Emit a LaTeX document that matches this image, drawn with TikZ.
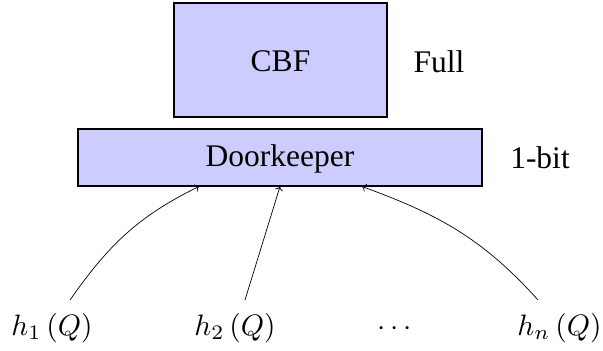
\documentclass[tikz,border=0pt]{standalone}
\usepackage{fontspec}
\newfontfamily\tnrfont{Liberation Serif}
\usetikzlibrary{arrows.meta}
\begin{document}
\begin{tikzpicture}[x=1pt,y=-1pt,
  boxstyle/.style={draw=black, line width=1.3pt, fill=blue!20, inner sep=0pt},
  txt/.style={font=\tnrfont\fontsize{31.5}{36}\selectfont, inner sep=0pt},
  mth/.style={font=\fontsize{10}{12}\selectfont, scale=2.95, inner sep=0pt, anchor=base},
  arr/.style={-{To[length=4pt,width=8pt]}, line width=0.7pt}]
\useasboundingbox (0,0) rectangle (603,351);
\node[boxstyle, minimum width=213pt, minimum height=114pt] (cbf) at (280.5,60) {};
\node[txt, anchor=base] (cbft) at (280.5,71.7) {CBF};
\node[boxstyle, minimum width=404pt, minimum height=57pt] (dk) at (280,157.5) {};
\node[txt, anchor=base] (dkt) at (280,166.5) {Doorkeeper};
\node[txt, anchor=base] (full) at (439,72) {Full};
\node[txt, anchor=base] (bit) at (540,168) {1-bit};
\node[mth] (h1) at (52,335.5) {$h_1\left(Q\right)$};
\node[mth] (h2) at (235,335.5) {$h_2\left(Q\right)$};
\node[mth] (dots) at (395,335.5) {$\cdots$};
\node[mth] (hn) at (559.5,335.5) {$h_n\left(Q\right)$};
\coordinate (s1) at (70,300);
\coordinate (s2) at (245,300);
\coordinate (s3) at (538,300);
\coordinate (t1) at (199,186.5);
\coordinate (t2) at (280,186.5);
\coordinate (t3) at (362,186.5);
\draw[arr] (s1) to[out=55, in=206] (t1);
\draw[arr] (s2) -- (t2);
\draw[arr] (s3) to[out=132, in=-20] (t3);
\end{tikzpicture}
\end{document}
